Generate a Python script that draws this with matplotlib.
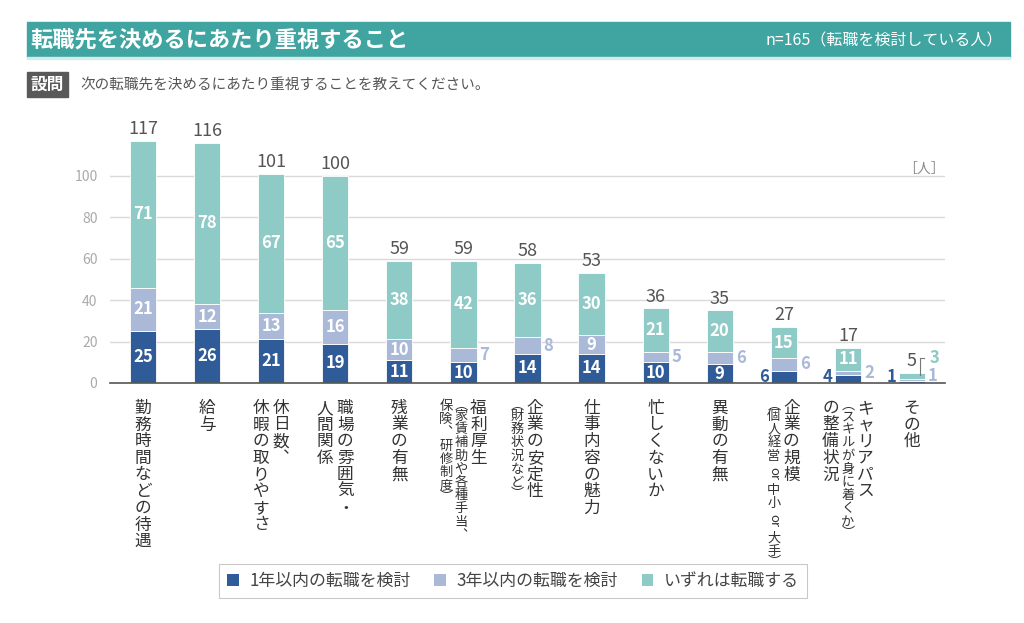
import re
import matplotlib
matplotlib.use('Agg')
import matplotlib.pyplot as plt
from matplotlib.patches import Rectangle, Patch

plt.rcParams['font.family'] = ['Noto Sans CJK JP', 'DejaVu Sans']

# data (人)
categories = ['勤務時間などの待遇', '給与', '休日数、\n休暇の取りやすさ', '職場の雰囲気・\n人間関係',
              '残業の有無', '福利厚生\n（家賃補助や各種手当、\n保険、研修制度）',
              '企業の安定性\n（財務状況など）', '仕事内容の魅力', '忙しくないか', '異動の有無',
              '企業の規模\n（個人経営 or 中小 or 大手）',
              'キャリアパス\n（スキルが身に着くか）\nの整備状況', 'その他']
within_1yr = [25, 26, 21, 19, 11, 10, 14, 14, 10, 9, 6, 4, 1]
within_3yr = [21, 12, 13, 16, 10, 7, 8, 9, 5, 6, 6, 2, 1]
someday = [71, 78, 67, 65, 38, 42, 36, 30, 21, 20, 15, 11, 3]
series_names = ['1年以内の転職を検討', '3年以内の転職を検討', 'いずれは転職する']
yticks = [0, 20, 40, 60, 80, 100]

colors = ['#2f5b98', '#a9b9d7', '#8ecac6']
NUM_FONT = ['Liberation Sans Narrow', 'Noto Sans CJK JP']
PX = 0.72  # points per pixel at dpi 100
VERT = {'、': '︑', '（': '︵', '）': '︶'}


def vertical_label(ax, i, text):
    # draws a Japanese label top-to-bottom, columns right-to-left
    specs = []
    depth = 0
    for line in text.split('\n'):
        small = depth > 0 or line.startswith('（')
        depth += line.count('（') - line.count('）')
        specs.append((line, small))
    widths = [15 if s else 20 for _, s in specs]
    x = sum(widths) / 2
    trans = ax.get_xaxis_transform()
    for (line, small), w in zip(specs, widths):
        cx = x - w / 2
        x -= w
        size = 9.5 if small else 12
        em = size / PX
        y = 17
        for tok in re.findall(r'[A-Za-z]+| |.', line):
            if tok == ' ':
                y += em * 0.2
                continue
            if tok.isascii():
                adv = em * 0.6 * len(tok)
                rot = 270
            else:
                adv = em * 0.75 if tok in '（）' else em
                rot = 0
            ax.annotate(VERT.get(tok, tok), (i, 0), xycoords=trans,
                        xytext=(cx * PX, -(y + adv / 2) * PX), textcoords='offset points',
                        rotation=rot, ha='center', va='center', fontsize=size, color='#333333')
            y += adv


fig = plt.figure(figsize=(10.24, 6.23), dpi=100)
ax = fig.add_axes([110 / 1024, 1 - 383 / 623, 835 / 1024, 259 / 623])

x = range(len(categories))
series = [within_1yr, within_3yr, someday]
bottom = [0] * len(categories)
for k, vals in enumerate(series):
    ax.bar(x, vals, width=0.41, bottom=bottom, color=colors[k], edgecolor='white',
           linewidth=0.6, zorder=3)
    for i, v in enumerate(vals):
        mid = bottom[i] + v / 2
        if v >= 9:
            ax.text(i, mid, str(v), ha='center', va='center', color='white', fontsize=12,
                    fontweight='bold', family=NUM_FONT, zorder=4)
        elif k == 0:
            ax.annotate(str(v), (i, max(mid, 3)), xytext=(-20 * PX, 0), textcoords='offset points',
                        ha='center', va='center', color=colors[0], fontsize=12,
                        fontweight='bold', family=NUM_FONT)
        elif k == 1:
            ax.annotate(str(v), (i, max(mid, 3.5)), xytext=(21 * PX, 0), textcoords='offset points',
                        ha='center', va='center', color=colors[1], fontsize=12,
                        fontweight='bold', family=NUM_FONT)
        else:
            top = bottom[i] + v
            ax.plot([i + 0.13, i + 0.13, i + 0.19], [top - 1, top + 7, top + 7],
                    color='#777777', lw=0.8, zorder=4)
            ax.annotate(str(v), (i + 0.13, top + 7), xytext=(14 * PX, 0), textcoords='offset points',
                        ha='center', va='center', color=colors[2], fontsize=12,
                        fontweight='bold', family=NUM_FONT)
    bottom = [b + v for b, v in zip(bottom, vals)]

for i, t in enumerate(bottom):
    ax.annotate(str(t), (i, t), xytext=(0, 2), textcoords='offset points', ha='center',
                va='bottom', color='#555555', fontsize=13, family=NUM_FONT)

for i, c in enumerate(categories):
    vertical_label(ax, i, c)

ax.set_xlim(-0.515, len(categories) - 0.485)
ax.set_ylim(0, 125)
ax.set_yticks(yticks)
ax.set_yticklabels([str(t) for t in yticks], family=NUM_FONT)
ax.tick_params(axis='y', length=0, pad=9, labelsize=10, labelcolor='#aaaaaa')
ax.set_xticks([])
for t in yticks[1:]:
    ax.axhline(t, color='#d9d9d9', lw=1, zorder=1)
for s in ['top', 'right', 'left']:
    ax.spines[s].set_visible(False)
ax.spines['bottom'].set_color('#555555')
ax.spines['bottom'].set_linewidth(1.2)
ax.spines['bottom'].set_zorder(5)
ax.text(1.0, 100, '［人］', transform=ax.get_yaxis_transform(), ha='right', va='bottom',
        fontsize=10, color='#888888')

# header
fig.patches.append(Rectangle((27 / 1024, 1 - 57 / 623), 983 / 1024, 35 / 623,
                             transform=fig.transFigure, color='#40a5a1', zorder=0))
fig.patches.append(Rectangle((27 / 1024, 1 - 59 / 623), 983 / 1024, 2 / 623,
                             transform=fig.transFigure, color='#d3ebe9', zorder=0))
fig.text(30 / 1024, 1 - 40 / 623, '転職先を決めるにあたり重視すること', color='white',
         fontsize=16, fontweight='bold', va='center', ha='left')
fig.text(1003 / 1024, 1 - 41 / 623, 'n=165（転職を検討している人）', color='white',
         fontsize=11.5, va='center', ha='right')
fig.patches.append(Rectangle((27 / 1024, 1 - 97 / 623), 41 / 1024, 25 / 623,
                             transform=fig.transFigure, color='#595959', zorder=0))
fig.text(47.5 / 1024, 1 - 84.5 / 623, '設問', color='white', fontsize=12, fontweight='bold',
         va='center', ha='center')
fig.text(80 / 1024, 1 - 85 / 623, '次の転職先を決めるにあたり重視することを教えてください。',
         color='#555555', fontsize=10.5, va='center', ha='left')

handles = [Patch(facecolor=c, edgecolor='none') for c in colors]
leg = fig.legend(handles, series_names, loc='center', bbox_to_anchor=(513 / 1024, 1 - 581 / 623),
                 ncol=3, fontsize=12.2, frameon=True, fancybox=False, handlelength=0.7,
                 handleheight=0.7, handletextpad=0.6, columnspacing=1.4, borderpad=0.5,
                 borderaxespad=0)
leg.get_frame().set_edgecolor('#bbbbbb')
leg.get_frame().set_linewidth(0.8)
for t in leg.get_texts():
    t.set_color('#444444')

fig.savefig('out.png', dpi=100)
